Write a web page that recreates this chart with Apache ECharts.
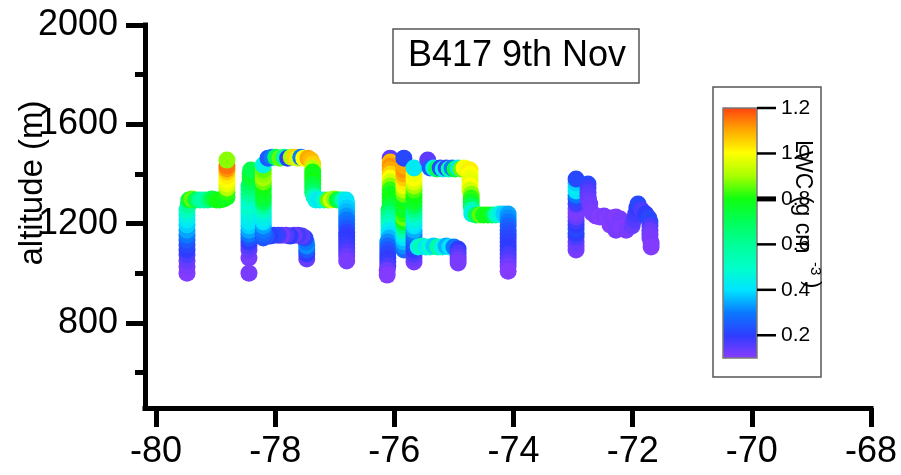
<!DOCTYPE html>
<html>
<head>
<meta charset="utf-8">
<script src="https://cdn.jsdelivr.net/npm/echarts@6/dist/echarts.min.js"></script>
<style>
  html, body { margin: 0; padding: 0; background: #ffffff; }
  #chart { width: 901px; height: 475px; }
</style>
</head>
<body>
<div id="chart"></div>
<script>
// Axis ticks
const lonTicks = [-80, -78, -76, -74, -72, -70, -68];
const altMajorTicks = [800, 1200, 1600, 2000];
const altMinorTicks = [600, 1000, 1400, 1800];
const lwcTicks = [0.2, 0.4, 0.6, 0.8, 1.0, 1.2];
const lwcBoldTick = 0.8;
const lwcRange = [0.1, 1.2];

// Colour scale for liquid water content, 0.1 .. 1.2 in steps of 0.1
const lwcPalette = ['#8c3cff', '#2f3cff', '#0a78ff', '#00e4ff', '#00ffc8', '#00ff98',
                    '#00ff58', '#10ff10', '#a8ff00', '#ffff00', '#ffa800', '#ff4010'];

// Flight track samples: [longitude, altitude (m), LWC (g cm-3)]
const leg1 = [
  [-79.48,1001,0.11],[-79.48,1026,0.12],[-79.48,1050,0.14],[-79.48,1074,0.17],[-79.48,1094,0.20],
  [-79.48,1114,0.22],[-79.48,1134,0.25],[-79.48,1154,0.30],[-79.48,1174,0.34],[-79.48,1195,0.38],
  [-79.48,1215,0.42],[-79.48,1235,0.46],[-79.48,1255,0.52],[-79.46,1275,0.60],[-79.45,1295,0.75],
  [-79.40,1299,0.85],[-79.33,1295,0.72],[-79.26,1295,0.60],[-79.19,1295,0.55],[-79.13,1295,0.62],
  [-79.06,1299,0.72],[-78.99,1295,0.78],[-78.93,1295,0.80],[-78.86,1299,0.80],[-78.81,1307,0.78],
  [-78.81,1327,0.82],[-78.81,1344,0.92],[-78.81,1360,0.97],[-78.81,1376,1.00],[-78.81,1392,1.02],
  [-78.81,1408,1.06],[-78.81,1420,1.12],[-78.81,1432,1.15],[-78.81,1456,0.88]
];

const leg2 = [
  [-78.44,1001,0.12],[-78.44,1062,0.12],[-78.44,1094,0.14],[-78.44,1110,0.16],[-78.44,1126,0.20],
  [-78.44,1142,0.24],[-78.44,1158,0.30],[-78.44,1174,0.34],[-78.44,1191,0.38],[-78.44,1207,0.41],
  [-78.44,1223,0.43],[-78.44,1239,0.45],[-78.44,1255,0.47],[-78.44,1271,0.50],[-78.44,1287,0.48],
  [-78.44,1303,0.52],[-78.44,1319,0.58],[-78.44,1336,0.62],[-78.44,1352,0.66],[-78.42,1368,0.70],
  [-78.42,1384,0.74],[-78.42,1400,0.76],[-78.41,1416,0.72],
  [-77.47,1058,0.14],[-77.47,1078,0.20],[-77.47,1094,0.25],[-77.47,1110,0.32],[-77.48,1126,0.30],
  [-77.50,1142,0.22],
  [-77.55,1150,0.15],[-77.62,1154,0.18],[-77.68,1154,0.14],[-77.75,1150,0.20],[-77.82,1154,0.16],
  [-77.89,1154,0.13],[-77.95,1154,0.18],[-78.02,1154,0.22],[-78.09,1150,0.20],[-78.15,1150,0.25],
  [-78.20,1142,0.24],[-78.20,1158,0.27],[-78.20,1174,0.30],[-78.20,1191,0.34],[-78.20,1207,0.40],
  [-78.20,1223,0.44],[-78.20,1239,0.46],[-78.20,1255,0.52],[-78.20,1271,0.60],[-78.20,1287,0.70],
  [-78.20,1303,0.74],[-78.20,1319,0.76],[-78.20,1336,0.78],[-78.20,1352,0.80],[-78.20,1368,0.86],
  [-78.20,1384,0.90],[-78.20,1400,0.88],[-78.20,1416,0.85],[-78.20,1436,0.45],
  [-78.12,1464,0.25],[-78.05,1468,0.30],[-77.99,1468,0.70],[-77.92,1464,0.85],[-77.85,1468,0.60],
  [-77.79,1464,0.20],[-77.73,1468,0.90],[-77.67,1468,1.05],[-77.62,1464,0.95],[-77.57,1468,0.30],
  [-77.52,1464,1.00],[-77.45,1464,1.10],[-77.40,1456,1.08],
  [-77.37,1440,1.05],[-77.37,1424,0.92],[-77.37,1408,0.80],[-77.37,1392,0.78],[-77.37,1376,0.80],
  [-77.37,1360,0.75],[-77.37,1344,0.72],[-77.37,1327,0.68],[-77.35,1311,0.55],[-77.32,1295,0.45],
  [-77.25,1295,0.42],[-77.18,1295,0.50],[-77.11,1295,0.85],[-77.06,1295,0.95],[-77.01,1299,0.88],
  [-76.96,1295,0.75],[-76.91,1295,0.70],[-76.86,1295,0.55],[-76.81,1295,0.42],
  [-76.80,1279,0.40],[-76.80,1263,0.38],[-76.80,1247,0.36],[-76.80,1231,0.33],[-76.80,1215,0.30],
  [-76.80,1199,0.28],[-76.80,1183,0.25],[-76.80,1166,0.22],[-76.80,1150,0.20],[-76.80,1134,0.20],
  [-76.80,1118,0.19],[-76.80,1102,0.18],[-76.80,1086,0.16],[-76.80,1070,0.14],[-76.80,1050,0.12]
];

const leg3 = [
  [-76.07,1464,0.15],[-76.07,1448,1.08],[-76.07,1432,1.12],[-76.07,1416,1.10],[-76.07,1400,1.05],
  [-76.07,1384,1.00],[-76.07,1368,0.95],[-76.07,1352,0.88],[-76.07,1336,0.82],[-76.07,1319,0.78],
  [-76.07,1303,0.80],[-76.07,1287,0.78],[-76.07,1271,0.75],[-76.09,1255,0.72],[-76.09,1239,0.66],
  [-76.09,1223,0.60],[-76.09,1207,0.55],[-76.09,1191,0.50],[-76.09,1174,0.44],[-76.09,1158,0.40],
  [-76.09,1142,0.36],[-76.11,1126,0.32],[-76.11,1110,0.28],[-76.11,1094,0.24],[-76.11,1078,0.22],
  [-76.11,1062,0.20],[-76.11,1046,0.19],[-76.11,1030,0.17],[-76.12,1013,0.13],[-76.12,993,0.11],
  [-75.84,1094,0.28],[-75.84,1110,0.32],[-75.84,1126,0.36],[-75.84,1142,0.40],[-75.84,1158,0.45],
  [-75.84,1174,0.55],[-75.84,1191,0.65],[-75.84,1207,0.78],[-75.84,1223,0.86],[-75.84,1239,0.82],
  [-75.84,1255,0.78],[-75.84,1271,0.76],[-75.84,1287,0.80],[-75.84,1303,0.78],[-75.84,1319,0.86],
  [-75.84,1336,0.92],[-75.84,1352,0.98],[-75.84,1368,1.02],[-75.84,1384,1.06],[-75.84,1400,1.10],
  [-75.84,1416,1.12],[-75.84,1432,1.10],[-75.84,1464,0.22],
  [-75.67,1046,0.12],[-75.67,1062,0.14],[-75.67,1078,0.17],[-75.67,1094,0.20],[-75.67,1110,0.22],
  [-75.67,1126,0.24],[-75.67,1142,0.26],[-75.67,1158,0.30],[-75.67,1174,0.35],[-75.67,1191,0.40],
  [-75.67,1207,0.44],[-75.67,1223,0.48],[-75.67,1239,0.55],[-75.67,1255,0.62],[-75.67,1271,0.70],
  [-75.67,1287,0.76],[-75.67,1303,0.78],[-75.67,1319,0.80],[-75.67,1336,0.84],[-75.67,1352,0.90],
  [-75.67,1368,0.96],[-75.67,1384,1.00],[-75.67,1400,0.98],[-75.67,1424,0.42],
  [-75.60,1106,0.45],[-75.54,1110,0.55],[-75.47,1106,0.42],[-75.40,1106,0.50],[-75.34,1110,0.38],
  [-75.27,1106,0.60],[-75.20,1106,0.45],[-75.13,1110,0.35],[-75.07,1106,0.40],[-75.00,1106,0.30],
  [-74.93,1098,0.20],[-74.93,1082,0.17],[-74.93,1066,0.15],[-74.93,1054,0.13],[-74.93,1042,0.12],
  [-75.44,1456,0.15],[-75.40,1424,0.25],[-75.34,1424,0.45],[-75.29,1420,0.70],[-75.23,1424,0.22],
  [-75.18,1420,0.45],[-75.13,1424,0.18],[-75.08,1420,0.55],[-75.03,1424,0.30],[-74.98,1420,0.75],
  [-74.93,1424,0.42],[-74.88,1420,0.85],[-74.83,1424,1.00],[-74.78,1420,0.98],[-74.73,1416,1.02],
  [-74.73,1400,1.00],[-74.73,1384,0.98],[-74.73,1368,0.97],[-74.73,1352,1.00],[-74.73,1336,0.95],
  [-74.71,1319,0.88],[-74.71,1303,0.82],[-74.71,1287,0.78],[-74.71,1271,0.70],[-74.70,1255,0.55],
  [-74.70,1239,0.45],
  [-74.63,1235,0.70],[-74.56,1235,0.85],[-74.50,1235,0.78],[-74.43,1235,0.80],[-74.36,1235,0.75],
  [-74.30,1235,0.55],[-74.23,1239,0.45],[-74.16,1239,0.38],
  [-74.09,1239,0.34],[-74.09,1223,0.32],[-74.09,1207,0.30],[-74.09,1191,0.27],[-74.09,1174,0.25],
  [-74.09,1158,0.23],[-74.09,1142,0.22],[-74.09,1126,0.21],[-74.09,1110,0.20],[-74.09,1094,0.20],
  [-74.09,1078,0.18],[-74.09,1062,0.17],[-74.09,1046,0.15],[-74.09,1030,0.13],[-74.09,1009,0.11]
];

const leg4 = [
  [-72.95,1094,0.12],[-72.95,1110,0.13],[-72.95,1126,0.14],[-72.95,1146,0.17],[-72.95,1162,0.20],
  [-72.95,1179,0.22],[-72.95,1195,0.20],[-72.95,1211,0.18],[-72.95,1227,0.14],[-72.95,1243,0.12],
  [-72.95,1259,0.12],[-72.95,1279,0.18],[-72.95,1299,0.22],[-72.95,1315,0.30],[-72.95,1332,0.40],
  [-72.95,1348,0.43],[-72.95,1364,0.38],[-72.95,1380,0.22],
  [-72.75,1360,0.22],[-72.75,1344,0.18],[-72.75,1327,0.16],[-72.75,1311,0.15],[-72.74,1295,0.14],
  [-72.72,1279,0.13],[-72.68,1243,0.12],
  [-72.62,1231,0.12],[-72.55,1227,0.11],[-72.48,1231,0.12],[-72.42,1223,0.11],[-72.38,1195,0.11],
  [-72.35,1223,0.12],[-72.28,1227,0.11],[-72.28,1174,0.12],[-72.21,1219,0.12],[-72.18,1183,0.11],
  [-72.11,1174,0.12],
  [-72.01,1191,0.14],[-71.98,1215,0.16],[-71.95,1239,0.18],[-71.93,1263,0.20],[-71.91,1279,0.22],
  [-71.85,1255,0.17],[-71.78,1239,0.20],[-71.73,1223,0.22],[-71.71,1207,0.22],[-71.71,1191,0.17],
  [-71.71,1174,0.14],[-71.71,1158,0.13],[-71.71,1142,0.12],[-71.69,1122,0.12],[-71.69,1106,0.11]
];

const LABEL_FONT = '"Liberation Sans", Arial, sans-serif';
const track = leg1.concat(leg2, leg3, leg4);

const chart = echarts.init(document.getElementById('chart'), null, { renderer: 'canvas' });

const axisStroke = { color: '#000', width: 5, cap: 'square' };
const gradientStops = lwcPalette.map((c, i) => ({ offset: i / (lwcPalette.length - 1), color: c }));

// colour bar geometry
const BAR = { left: 723, top: 108, width: 34, height: 250 };
const TICK_LEN = 19;
// vertical position of a LWC value along the colour bar
function barY(v) {
  return BAR.top + (lwcRange[1] - v) / (lwcRange[1] - lwcRange[0]) * BAR.height;
}
const barTicks = lwcTicks.map(v => ({
  type: 'line', z: 3,
  shape: { x1: BAR.left + BAR.width, y1: barY(v), x2: BAR.left + BAR.width + TICK_LEN, y2: barY(v) },
  style: { stroke: '#000', lineWidth: v === lwcBoldTick ? 5 : 2.5 }
}));

chart.setOption({
  animation: false,
  backgroundColor: '#ffffff',
  grid: [
    { left: 145, right: 30, top: 25, bottom: 67, show: false },
    Object.assign({ show: false }, BAR)
  ],
  xAxis: [
    {
      type: 'value', gridIndex: 0, min: -80.185, max: -68, position: 'bottom',
      axisLine: { show: true, onZero: false, lineStyle: axisStroke },
      axisTick: { show: true, inside: false, length: 19, customValues: lonTicks,
                  lineStyle: { color: '#000', width: 5 } },
      axisLabel: { show: true, customValues: lonTicks, margin: 26, color: '#000',
                   fontSize: 36, fontFamily: LABEL_FONT, formatter: v => String(v) },
      splitLine: { show: false }
    },
    { type: 'value', gridIndex: 1, min: 0, max: 1, show: false }
  ],
  yAxis: [
    {
      type: 'value', gridIndex: 0, min: 458, max: 2000, position: 'left',
      axisLine: { show: true, onZero: false, lineStyle: axisStroke },
      axisTick: { show: true, inside: false, length: 19, customValues: altMajorTicks,
                  lineStyle: { color: '#000', width: 5 } },
      axisLabel: { show: true, customValues: altMajorTicks, margin: 27, color: '#000',
                   fontSize: 36, fontFamily: LABEL_FONT, formatter: v => String(v) },
      splitLine: { show: false }
    },
    {
      type: 'value', gridIndex: 0, min: 458, max: 2000, position: 'left',
      axisLine: { show: false, onZero: false },
      axisTick: { show: true, inside: false, length: 10, customValues: altMinorTicks,
                  lineStyle: { color: '#000', width: 5 } },
      axisLabel: { show: false },
      splitLine: { show: false }
    },
    // colour bar scale labels
    {
      type: 'value', gridIndex: 1, min: lwcRange[0], max: lwcRange[1], position: 'right',
      axisLine: { show: false },
      axisTick: { show: false },
      axisLabel: { show: true, customValues: lwcTicks, margin: 24, color: '#000',
                   fontSize: 21, fontFamily: LABEL_FONT, formatter: v => v.toFixed(1) },
      splitLine: { show: false }
    },
    {
      type: 'value', gridIndex: 1, min: lwcRange[0], max: lwcRange[1], position: 'left', offset: -2,
      axisLine: { show: true, lineStyle: { color: '#000', width: 1.2 } },
      axisTick: { show: false },
      axisLabel: { show: false },
      splitLine: { show: false }
    }
  ],
  visualMap: {
    show: false, type: 'continuous', seriesIndex: 0, dimension: 2,
    min: lwcRange[0], max: lwcRange[1], inRange: { color: lwcPalette }
  },
  series: [
    {
      type: 'scatter', xAxisIndex: 0, yAxisIndex: 0,
      symbol: 'circle', symbolSize: 17,
      itemStyle: { opacity: 1 },
      data: track,
      z: 2
    }
  ],
  graphic: [
    // colour bar
    {
      type: 'rect', z: 1,
      shape: { x: BAR.left, y: BAR.top, width: BAR.width, height: BAR.height },
      style: { fill: new echarts.graphic.LinearGradient(0, 1, 0, 0, gradientStops),
               stroke: '#7a7a7a', lineWidth: 1.5 }
    },
    // colour bar frame
    {
      type: 'rect', z: 0,
      shape: { x: 713, y: 87, width: 108, height: 290 },
      style: { fill: 'none', stroke: '#555', lineWidth: 1.5 }
    },
    ...barTicks,
    {
      type: 'text', z: 5, x: 802, y: 140, rotation: -Math.PI / 2,
      style: { text: 'LWC (g cm', font: '23px ' + LABEL_FONT, fill: '#000',
               textAlign: 'left', textVerticalAlign: 'middle' }
    },
    {
      type: 'text', z: 5, x: 815, y: 262, rotation: -Math.PI / 2,
      style: { text: '-3', font: '15px ' + LABEL_FONT, fill: '#000',
               textAlign: 'left', textVerticalAlign: 'middle' }
    },
    {
      type: 'text', z: 5, x: 812, y: 281, rotation: -Math.PI / 2,
      style: { text: ')', font: '22px ' + LABEL_FONT, fill: '#000',
               textAlign: 'left', textVerticalAlign: 'middle' }
    },
    // title box
    {
      type: 'rect', z: 5,
      shape: { x: 393, y: 29, width: 246, height: 54 },
      style: { fill: '#fff', stroke: '#555', lineWidth: 1.5 }
    },
    {
      type: 'text', z: 6, x: 517, y: 56,
      style: { text: 'B417 9th Nov', font: '36px ' + LABEL_FONT, fill: '#000',
               textAlign: 'center', textVerticalAlign: 'middle' }
    },
    // y axis title
    {
      type: 'text', z: 6, x: 33, y: 183, rotation: Math.PI / 2,
      style: { text: 'altitude (m)', font: '33px ' + LABEL_FONT, fill: '#000',
               textAlign: 'center', textVerticalAlign: 'middle' }
    }
  ]
});
</script>
</body>
</html>
